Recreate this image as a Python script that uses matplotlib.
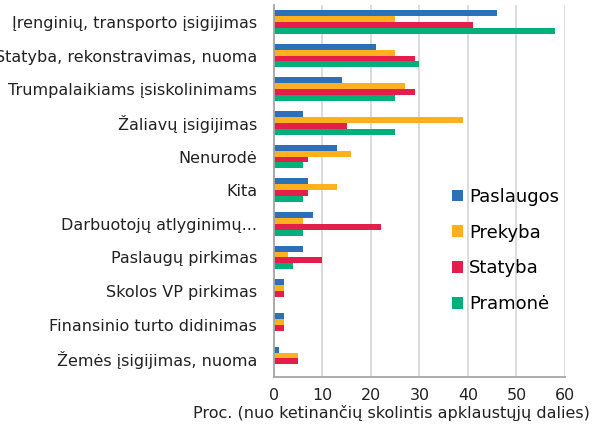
import matplotlib.pyplot as plt
import numpy as np

# categories top to bottom
categories = ["Įrenginių, transporto įsigijimas", "Statyba, rekonstravimas, nuoma",
              "Trumpalaikiams įsiskolinimams", "Žaliavų įsigijimas", "Nenurodė", "Kita",
              "Darbuotojų atlyginimų...", "Paslaugų pirkimas", "Skolos VP pirkimas",
              "Finansinio turto didinimas", "Žemės įsigijimas, nuoma"]
series = ["Paslaugos", "Prekyba", "Statyba", "Pramonė"]
paslaugos = [46, 21, 14, 6, 13, 7, 8, 6, 2, 2, 1]
prekyba = [25, 25, 27, 39, 16, 13, 6, 3, 2, 2, 5]
statyba = [41, 29, 29, 15, 7, 7, 22, 10, 2, 2, 5]
pramone = [58, 30, 25, 25, 6, 6, 6, 4, 0, 0, 0]
colors = ['#2b70b8', '#ffb01c', '#e41e4b', '#00b07b']

fig = plt.figure(figsize=(5.94, 4.24), dpi=100)
ax = fig.add_axes([0.461, 0.111, 0.49, 0.877])

y = np.arange(len(categories))
h = 0.175
for i, (name, vals) in enumerate(zip(series, [paslaugos, prekyba, statyba, pramone])):
    ax.barh(y + (i - 1.5) * h, vals, height=h, color=colors[i], label=name)

ax.set_ylim(len(categories) - 0.45, -0.5)
ax.set_xlim(0, 60)
ax.set_xticks(range(0, 61, 10))
ax.set_yticks(y)
ax.set_yticklabels(categories, fontsize=11.5, color='#222222')
ax.tick_params(axis='both', length=0, colors='#222222')
ax.tick_params(axis='x', labelsize=11.4, pad=8)
ax.tick_params(axis='y', pad=12)
ax.xaxis.grid(True, color='#d9d9d9', linewidth=1.3)
ax.set_axisbelow(True)
for s in ['top', 'right']:
    ax.spines[s].set_visible(False)
for s in ['left', 'bottom']:
    ax.spines[s].set_color('#a6a6a6')
    ax.spines[s].set_linewidth(1.3)

ax.legend(loc='upper left', bbox_to_anchor=(0.555, 0.552), frameon=False, fontsize=13,
          handlelength=0.62, handleheight=0.62, handletextpad=0.35, labelspacing=0.98)

fig.text(0.993, 0.026, "Proc. (nuo ketinančių skolintis apklaustųjų dalies)",
         ha='right', va='center', fontsize=11.5, color='#222222')

fig.savefig('out.png', dpi=100)
